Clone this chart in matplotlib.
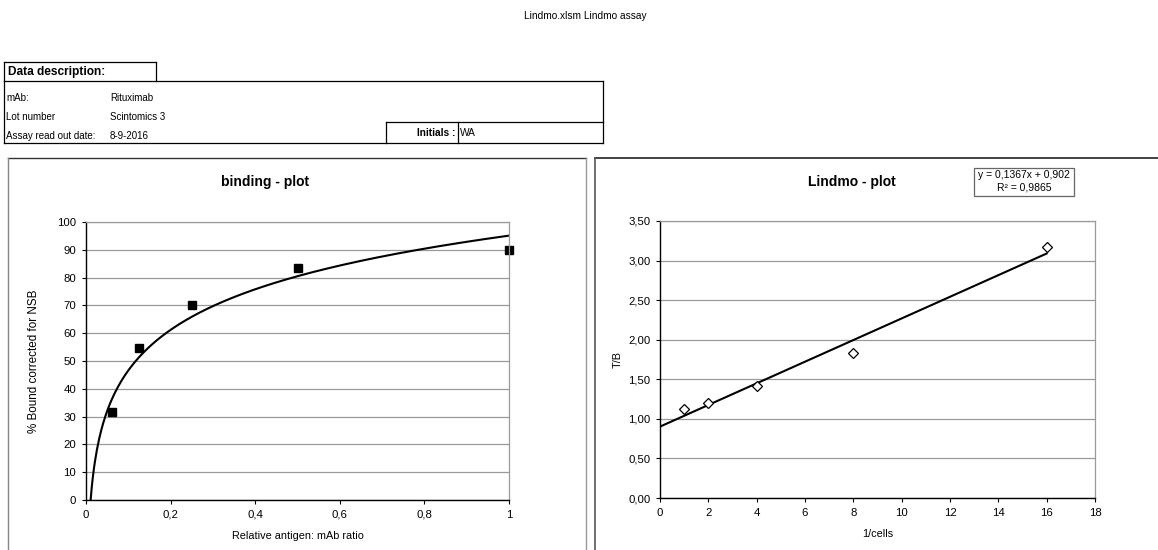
import numpy as np
import matplotlib
matplotlib.use("Agg")
import matplotlib.pyplot as plt
from matplotlib.lines import Line2D
from matplotlib.patches import Rectangle
from matplotlib.ticker import FuncFormatter

plt.rcParams['font.family'] = ['Liberation Sans', 'DejaVu Sans']

# ---- data ----
ratio = [0.0625, 0.125, 0.25, 0.5, 1.0]
bound_pct = [31.5, 54.5, 70.0, 83.5, 90.0]

inv_cells = [1, 2, 4, 8, 16]
t_over_b = [1.12, 1.20, 1.42, 1.83, 3.17]
slope, intercept, r2 = 0.1367, 0.902, 0.9865

desc_labels = ["mAb:", "Lot number", "Assay read out date:"]
desc_values = ["Rituximab", "Scintomics 3", "8-9-2016"]
initials = "WA"

W, H = 1158, 550
fig = plt.figure(figsize=(W / 100, H / 100), dpi=100)


def fx(x):
    return x / W


def fy(y):
    return 1 - y / H


def hline(x0, x1, y, color="black", lw=0.9):
    fig.add_artist(Line2D([fx(x0), fx(x1)], [fy(y), fy(y)], color=color, lw=lw))


def vline(x, y0, y1, color="black", lw=0.9):
    fig.add_artist(Line2D([fx(x), fx(x)], [fy(y0), fy(y1)], color=color, lw=lw))


# ---- header ----
fig.text(fx(585), fy(16), "Lindmo.xlsm Lindmo assay", ha="center", va="center", fontsize=7.3)

# ---- description table ----
hline(4, 156, 62)
vline(4, 62, 81)
vline(156, 62, 81)
fig.text(fx(8), fy(72), "Data description:", ha="left", va="center", fontsize=8.6, weight="bold")
hline(4, 603, 81)
vline(4, 81, 143)
vline(603, 81, 143)
hline(4, 603, 143)
row_y = [98, 117, 136]
for lab, val, y in zip(desc_labels, desc_values, row_y):
    fig.text(fx(6), fy(y), lab, ha="left", va="center", fontsize=7)
    fig.text(fx(110), fy(y), val, ha="left", va="center", fontsize=7)
hline(386, 603, 122)
vline(386, 122, 143)
vline(458, 122, 143)
fig.text(fx(455), fy(133), "Initials :", ha="right", va="center", fontsize=7.3, weight="bold")
fig.text(fx(460), fy(133), initials, ha="left", va="center", fontsize=7.3)

# ---- chart frames ----
hline(8, 586, 158, color="#333333", lw=1.0)
vline(8, 158, 552, color="#888888", lw=1.0)
vline(586, 158, 552, color="#999999", lw=1.0)
hline(595, 1158, 158, color="#222222", lw=1.2)
vline(595, 158, 552, color="#555555", lw=1.2)


def style_axes(ax):
    ax.grid(axis="y", color="#9a9a9a", lw=0.9)
    ax.set_axisbelow(True)
    for s in ("top", "right"):
        ax.spines[s].set_color("#9a9a9a")
        ax.spines[s].set_linewidth(0.9)
    for s in ("left", "bottom"):
        ax.spines[s].set_color("black")
        ax.spines[s].set_linewidth(1.0)
    ax.tick_params(direction="out", length=3, width=0.8, labelsize=8.2, pad=4)


def comma(fmt):
    return FuncFormatter(lambda v, p: (fmt.format(v)).replace(".", ","))


# ---- binding plot ----
ax1 = fig.add_axes([fx(86), fy(500), fx(509 - 86), (500 - 222) / H])
a, b = np.polyfit(np.log(ratio), bound_pct, 1)
x0 = np.exp(-b / a)
xs = np.linspace(x0, 1.0, 400)
ax1.plot(xs, a * np.log(xs) + b, color="black", lw=1.5)
ax1.plot(ratio, bound_pct, "s", color="black", ms=5.6, clip_on=False)
ax1.set_xlim(0, 1)
ax1.set_ylim(0, 100)
ax1.set_xticks(np.arange(0, 1.01, 0.2))
ax1.set_yticks(np.arange(0, 101, 10))
ax1.xaxis.set_major_formatter(FuncFormatter(lambda v, p: ("{:.1f}".format(v).rstrip("0").rstrip(".")).replace(".", ",")))
style_axes(ax1)
ax1.set_xlabel("Relative antigen: mAb ratio", fontsize=7.8, labelpad=8)
ax1.set_ylabel("% Bound corrected for NSB", fontsize=8.4, labelpad=12)
fig.text(fx(265), fy(182), "binding - plot", ha="center", va="center", fontsize=10, weight="bold")

# ---- Lindmo plot ----
ax2 = fig.add_axes([fx(660), fy(498), fx(1095 - 660), (498 - 221) / H])
xl = np.array([0, max(inv_cells)])
ax2.plot(xl, slope * xl + intercept, color="black", lw=1.5)
ax2.plot(inv_cells, t_over_b, "D", mfc="white", mec="black", mew=0.9, ms=5, clip_on=False)
ax2.set_xlim(0, 18)
ax2.set_ylim(0, 3.5)
ax2.set_xticks(np.arange(0, 19, 2))
ax2.set_yticks(np.arange(0, 3.51, 0.5))
ax2.yaxis.set_major_formatter(comma("{:.2f}"))
style_axes(ax2)
ax2.set_xlabel("1/cells", fontsize=7.8, labelpad=8)
ax2.set_ylabel("T/B", fontsize=7.8, labelpad=4)
fig.text(fx(852), fy(182), "Lindmo - plot", ha="center", va="center", fontsize=10, weight="bold")

# trendline equation box
fig.add_artist(Rectangle((fx(974), fy(196)), fx(1074 - 974), (196 - 168) / H,
                         transform=fig.transFigure, fill=False, ec="#666666", lw=0.9))
eq = "y = {}x + {}".format(str(slope).replace(".", ","), str(intercept).replace(".", ","))
fig.text(fx(1024), fy(175), eq, ha="center", va="center", fontsize=7.5)
fig.text(fx(1024), fy(188), "R\u00b2 = {}".format(str(r2).replace(".", ",")), ha="center", va="center", fontsize=7.5)

fig.savefig("out.png", dpi=100, facecolor="white")
